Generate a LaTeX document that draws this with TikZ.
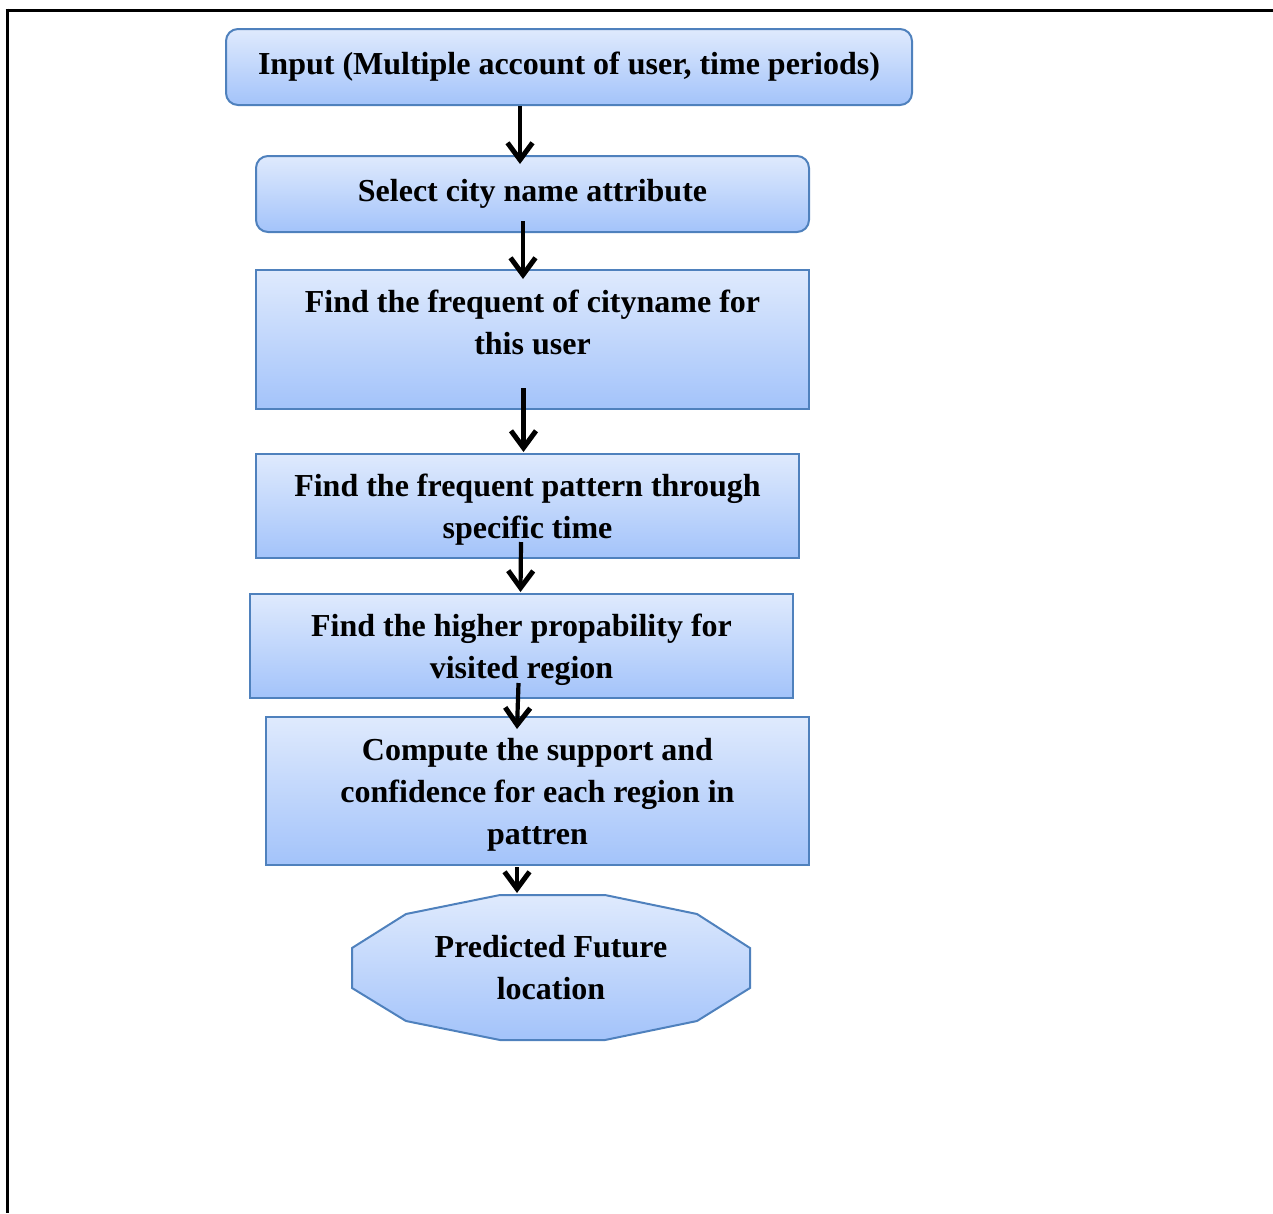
\documentclass[tikz,border=0pt]{standalone}
\usepackage{fontspec}
\setmainfont{Liberation Serif}
\usetikzlibrary{arrows.meta}
\definecolor{bordc}{RGB}{79,129,189}
\definecolor{topc}{RGB}{223,234,253}
\definecolor{botc}{RGB}{163,195,250}
\begin{document}
\begin{tikzpicture}[x=1pt,y=-1pt,
  box/.style={draw=bordc, line width=2, top color=topc, bottom color=botc,
    inner sep=0pt, align=center, font=\fontsize{32}{42}\selectfont\bfseries},
  rbox/.style={box, rounded corners=12},
  txt/.style={align=center, font=\fontsize{32}{42}\selectfont\bfseries, inner sep=0pt},
  arr/.style={line width=4.2, -{Straight Barb[length=17,width=25,line width=5]}},
  edge/.style={line width=3, black}]
\useasboundingbox (0,0) rectangle (1273,1213);
\draw[edge] (5.5,10) -- (1273,10);
\draw[edge] (7,8.5) -- (7,1213);

\node[rbox, minimum width=686, minimum height=76] (b1) at (569,67)
  {\raisebox{2pt}{Input (Multiple account of user, time periods)}};
\node[rbox, minimum width=553, minimum height=76] (b2) at (532.5,194)
  {\raisebox{4pt}{Select city name attribute}};
\node[box, minimum width=553, minimum height=139] (b3) at (532.5,339.5) {};
\node[txt] (t3) at (532.5,322)
  {Find the frequent of cityname for\\this user};
\node[box, minimum width=543, minimum height=104] (b4) at (527.5,506) {};
\node[txt] (t4) at (527.5,510)
  {Find the frequent pattern through\\specific time};
\node[box, minimum width=543, minimum height=104] (b5) at (521.5,646) {};
\node[txt] (t5) at (521.5,650)
  {Find the higher propability for\\visited region};
\node[box, minimum width=543, minimum height=148] (b6) at (537.5,791) {};
\node[txt] (t6) at (537.5,794.5)
  {Compute the support and\\confidence for each region in\\pattren};

\path[draw=bordc, line width=2, top color=topc, bottom color=botc]
  (500,895) -- (605,895) -- (697,914) -- (750,948) -- (750,988) -- (697,1021)
  -- (605,1040) -- (500,1040) -- (406,1021) -- (352,988) -- (352,948) -- (406,914) -- cycle;
\coordinate (ot) at (551,895);
\node[txt] (b7) at (551,967.5)
  {Predicted Future\\location};

\draw[arr] ([xshift=-49]b1.south) -- ([xshift=-12.5,yshift=-9]b2.north);
\draw[arr] ([xshift=-9.5,yshift=12]b2.south) -- ([xshift=-9.5,yshift=-10]b3.north);
\draw[arr] ([xshift=-9,yshift=22]b3.south) -- ([xshift=-4,yshift=1]b4.north);
\draw[arr] ([xshift=-6.5,yshift=17]b4.south) -- ([xshift=-1,yshift=1]b5.north);
\draw[arr] ([xshift=-3,yshift=16]b5.south) -- ([xshift=-20.5,yshift=-13]b6.north);
\draw[arr] ([xshift=-20.5,yshift=-1]b6.south) -- ([xshift=-34,yshift=2]ot);
\end{tikzpicture}
\end{document}
